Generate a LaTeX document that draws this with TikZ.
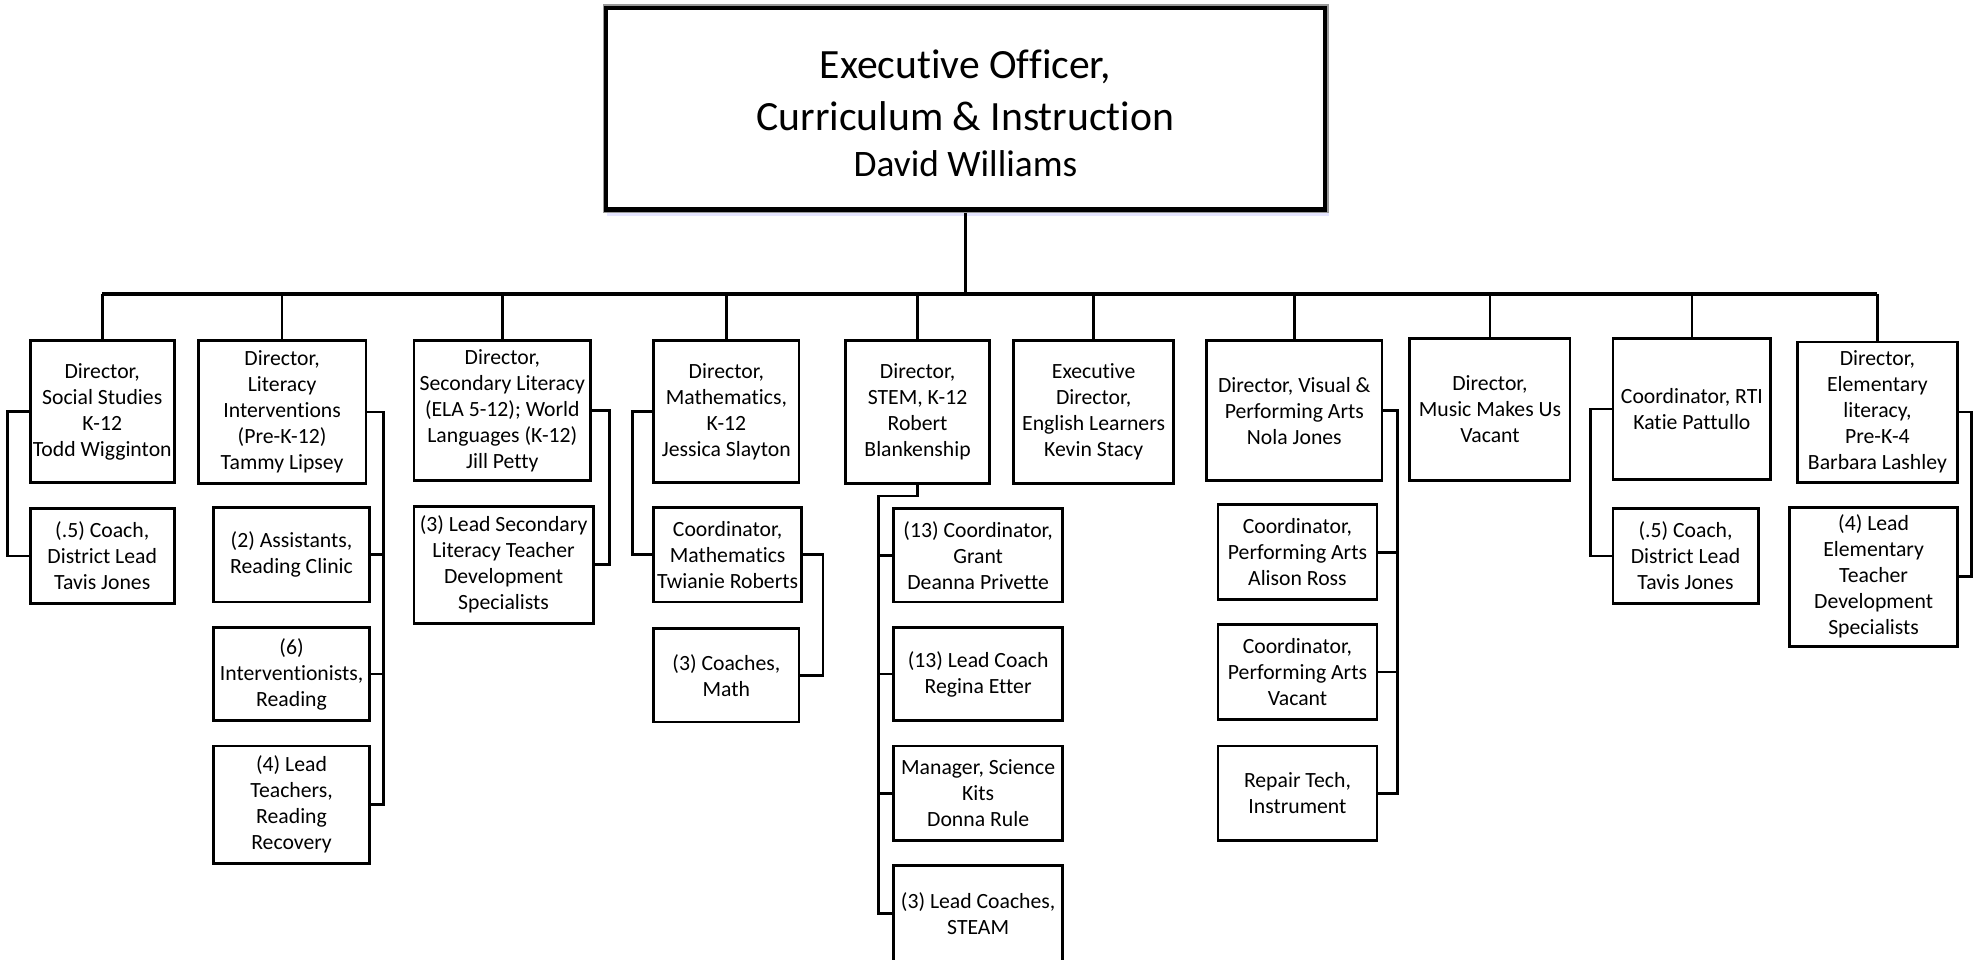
\documentclass[tikz,border=0pt]{standalone}
\usepackage{fontspec}
\setmainfont{Carlito}[Ligatures={NoCommon}]
\begin{document}
\begin{tikzpicture}[x=0.5pt,y=-0.5pt,
  line width=1.1pt,
  bx/.style={draw=black, line width=1.1pt, fill=white, inner sep=0pt, align=center,
    font=\fontsize{8.6pt}{10.3pt}\selectfont},
  conn/.style={draw=black, line width=1.1pt, line join=miter}]
\useasboundingbox (0,0) rectangle (1568,760);
% box macro: name, x1, y1, x2, y2, text
\newcommand\orgbox[6]{\node[bx, minimum width={(#4-#2)*0.5pt}, minimum height={(#5-#3)*0.5pt}] (#1) at ({(#2+#4)/2},{(#3+#5)/2}) {#6};}
% top box
\fill[blue!10] (481,9) rectangle (1053,171);
\node[draw=gray!80, line width=0.6pt, fill=white, minimum width=287pt, minimum height=82pt, inner sep=0pt] (topouter) at (765,86) {};
\node[draw=black, line width=1.6pt, minimum width=284.5pt, minimum height=79.8pt, inner sep=0pt, align=center,
  font=\fontsize{16.5pt}{20.6pt}\selectfont] (top) at (765,86.2)
  {\rule{0pt}{15pt}Executive Officer,\\Curriculum \& Instruction\\[-2.4pt]{\fontsize{14.8pt}{20.6pt}\selectfont David Williams}};
% level 2
\orgbox{a}{24}{270}{138}{382}{Director,\\Social Studies\\K-12\\Todd Wigginton}
\orgbox{b}{157}{270}{290}{383}{Director,\\Literacy\\Interventions\\(Pre-K-12)\\Tammy Lipsey}
\orgbox{c}{328}{270}{468}{381}{Director,\\Secondary Literacy\\(ELA 5-12); World\\Languages (K-12)\\Jill Petty}
\orgbox{d}{518}{270}{633}{382}{Director,\\Mathematics,\\K-12\\Jessica Slayton}
\orgbox{e}{670}{270}{784}{383}{Director,\\STEM, K-12\\Robert\\Blankenship}
\orgbox{f}{803}{270}{930}{383}{Executive\\Director,\\English Learners\\Kevin Stacy}
\orgbox{g}{956}{270}{1095}{381}{Director, Visual \&\\Performing Arts\\Nola Jones}
\orgbox{h}{1117}{268}{1244}{381}{Director,\\Music Makes Us\\Vacant}
\orgbox{i}{1278}{268}{1403}{380}{Coordinator, RTI\\Katie Pattullo}
\orgbox{j}{1424}{271}{1551}{382}{Director,\\Elementary\\literacy,\\Pre-K-4\\Barbara Lashley}
% children
\orgbox{a1}{24}{403}{138}{478}{(.5) Coach,\\District Lead\\Tavis Jones}
\orgbox{b1}{169}{402}{293}{477}{(2) Assistants,\\Reading Clinic}
\orgbox{b2}{169}{497}{293}{571}{(6)\\Interventionists,\\Reading}
\orgbox{b3}{169}{591}{293}{684}{(4) Lead\\Teachers,\\Reading\\Recovery}
\orgbox{c1}{328}{401}{470}{494}{(3) Lead Secondary\\Literacy Teacher\\Development\\Specialists}
\orgbox{d1}{518}{402}{635}{477}{Coordinator,\\Mathematics\\Twianie Roberts}
\orgbox{d2}{518}{498}{633}{572}{(3) Coaches,\\Math}
\orgbox{e1}{708}{403}{842}{477}{(13) Coordinator,\\Grant\\Deanna Privette}
\orgbox{e2}{708}{497}{842}{571}{(13) Lead Coach\\Regina Etter}
\orgbox{e3}{708}{591}{842}{666}{Manager, Science\\Kits\\Donna Rule}
\orgbox{e4}{708}{686}{842}{762}{(3) Lead Coaches,\\STEAM}
\orgbox{g1}{965}{400}{1091}{475}{Coordinator,\\Performing Arts\\Alison Ross}
\orgbox{g2}{965}{495}{1091}{570}{Coordinator,\\Performing Arts\\Vacant}
\orgbox{g3}{965}{591}{1091}{666}{Repair Tech,\\Instrument}
\orgbox{i1}{1278}{403}{1393}{478}{(.5) Coach,\\District Lead\\Tavis Jones}
\orgbox{j1}{1418}{402}{1551}{512}{(4) Lead\\Elementary\\Teacher\\Development\\Specialists}
% trunk and bus
\coordinate (bus) at (765,233);
\draw[conn] (topouter.south) -- (bus);
\draw[conn, line width=1.3pt] (a.north |- bus) -- (j.north |- bus);
\foreach \n in {a,b,c,d,e,f,g,h,i,j} \draw[conn] (\n.north) -- (\n.north |- bus);
% side connectors
\draw[conn] (a.west) -- ++(-17,0) |- (a1.west);
\coordinate (bsp) at (304,0);
\draw[conn] (b.east) -| (bsp |- b3.east) -- (b3.east);
\draw[conn] (b1.east) -- (b1.east -| bsp);
\draw[conn] (b2.east) -- (b2.east -| bsp);
\draw[conn] (c.east) -- ++(14,0) |- (c1.east);
\draw[conn] (d.west) -- ++(-16,0) |- (d1.west);
\draw[conn] (d1.east) -- ++(16,0) |- (d2.east);
\coordinate (esp) at (696,393);
\draw[conn] (e.south) |- (esp) -- (esp |- e4.west) -- (e4.west);
\draw[conn] (e1.west) -- (e1.west -| esp);
\draw[conn] (e2.west) -- (e2.west -| esp);
\draw[conn] (e3.west) -- (e3.west -| esp);
\coordinate (gsp) at (1107,0);
\draw[conn] (g.east) -| (gsp |- g3.east) -- (g3.east);
\draw[conn] (g1.east) -- (g1.east -| gsp);
\draw[conn] (g2.east) -- (g2.east -| gsp);
\draw[conn] (i.west) -- ++(-17,0) |- (i1.west);
\draw[conn] (j.east) -- ++(10,0) |- (j1.east);
\end{tikzpicture}
\end{document}
